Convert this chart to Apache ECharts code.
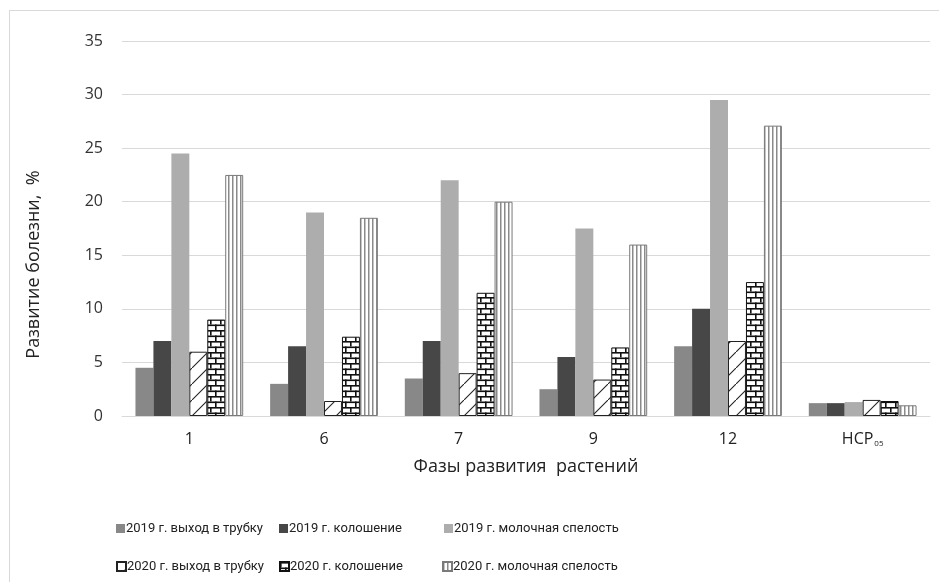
<!DOCTYPE html>
<html><head><meta charset="utf-8">
<script src="https://cdn.jsdelivr.net/npm/echarts@6/dist/echarts.min.js"></script>
<style>
html,body{margin:0;padding:0;background:#fff}
#wrap{position:relative;width:939px;height:582px;overflow:hidden}
#c{width:939px;height:582px}
#frame{position:absolute;left:9px;top:10px;width:960px;height:620px;border-left:1px solid #d9d9d9;border-top:1px solid #d9d9d9;pointer-events:none}
</style>
</head><body>
<div id="wrap"><div id="c"></div><div id="frame"></div></div>
<script>
const categories = ['1', '6', '7', '9', '12', 'НСР05'];
const s2019tube = [4.5, 3.0, 3.5, 2.5, 6.5, 1.2];
const s2019ear  = [7.0, 6.5, 7.0, 5.5, 10.0, 1.2];
const s2019milk = [24.5, 19.0, 22.0, 17.5, 29.5, 1.3];
const s2020tube = [6.0, 1.4, 4.0, 3.4, 7.0, 1.5];
const s2020ear  = [9.0, 7.4, 11.5, 6.4, 12.5, 1.4];
const s2020milk = [22.5, 18.5, 20.0, 16.0, 27.1, 1.0];
const seriesNames = [
  '2019 г. выход в трубку', '2019 г. колошение', '2019 г. молочная спелость',
  '2020 г. выход в трубку', '2020 г. колошение', '2020 г. молочная спелость'
];
const yAxisName = 'Развитие болезни,  %';
const xAxisName = 'Фазы развития  растений';

function makeCanvas(w, h, draw) {
  const c = document.createElement('canvas');
  c.width = w; c.height = h;
  const ctx = c.getContext('2d');
  ctx.fillStyle = '#fff'; ctx.fillRect(0, 0, w, h);
  draw(ctx);
  return c;
}
const hatch = makeCanvas(16, 16, ctx => {
  ctx.strokeStyle = '#222'; ctx.lineWidth = 1.1;
  ctx.beginPath();
  ctx.moveTo(-2, 18); ctx.lineTo(18, -2);
  ctx.stroke();
});
const bricks = makeCanvas(10, 11, ctx => {
  ctx.fillStyle = '#111';
  ctx.fillRect(0, 0, 10, 1.6);
  ctx.fillRect(0, 5.5, 10, 1.6);
  ctx.fillRect(0, 0, 1.6, 5.5);
  ctx.fillRect(5, 5.5, 1.6, 5.5);
});
const vlines = makeCanvas(4, 4, ctx => {
  ctx.fillStyle = '#8a8a8a';
  ctx.fillRect(0, 0, 1.5, 4);
});
const pat = img => ({ image: img, repeat: 'repeat' });

const dataSets = [s2019tube, s2019ear, s2019milk, s2020tube, s2020ear, s2020milk];
const styles = [
  { color: '#888888' },
  { color: '#474747' },
  { color: '#adadad' },
  { color: pat(hatch), borderColor: '#222', borderWidth: 1 },
  { color: pat(bricks), borderColor: '#111', borderWidth: 1 },
  { color: pat(vlines), borderColor: '#7a7a7a', borderWidth: 1 }
];

const FONT = "'Open Sans', 'Noto Sans', sans-serif";
const LFONT = "Roboto, 'Open Sans', sans-serif";
const legendPos = [
  { left: 111, top: 517 }, { left: 274, top: 517 }, { left: 439, top: 517 },
  { left: 111, top: 555 }, { left: 274, top: 555 }, { left: 437, top: 555 }
];

const chart = echarts.init(document.getElementById('c'), null, { renderer: 'canvas' });
chart.setOption({
  animation: false,
  backgroundColor: '#fff',
  grid: { left: 122, right: 9, top: 41, bottom: 166, containLabel: false },
  legend: seriesNames.map((n, i) => ({
    data: [n], left: legendPos[i].left, top: legendPos[i].top,
    icon: 'rect', itemWidth: 9, itemHeight: 9, itemGap: 0,
    textStyle: { fontFamily: LFONT, fontSize: 13, color: '#222', padding: [0, 0, 0, -4] }
  })),
  xAxis: {
    type: 'category', data: categories,
    name: xAxisName, nameLocation: 'middle', nameGap: 42,
    nameTextStyle: { fontFamily: FONT, fontSize: 18, color: '#222' },
    axisTick: { show: false },
    axisLine: { lineStyle: { color: '#d9d9d9', width: 1 } },
    axisLabel: {
      interval: 0,
      margin: 15, fontFamily: FONT, fontSize: 16, color: '#222',
      formatter: v => v === 'НСР05' ? '{a|НСР}{b|05}' : v,
      rich: {
        a: { fontFamily: FONT, fontSize: 16, color: '#222' },
        b: { fontFamily: FONT, fontSize: 8, color: '#222', padding: [9, 0, 0, 1] }
      }
    }
  },
  yAxis: {
    type: 'value', min: 0, max: 35, interval: 5,
    name: yAxisName, nameLocation: 'middle', nameGap: 79, nameRotate: 90,
    nameTextStyle: { fontFamily: FONT, fontSize: 18, color: '#222', padding: [0, 72, 0, 0] },
    axisLine: { show: false }, axisTick: { show: false },
    axisLabel: { margin: 19, fontFamily: FONT, fontSize: 16, color: '#333' },
    splitLine: { lineStyle: { color: '#d9d9d9', width: 1 } }
  },
  series: seriesNames.map((n, i) => ({
    name: n, type: 'bar', data: dataSets[i],
    barGap: '0%', barCategoryGap: '20%',
    itemStyle: styles[i]
  }))
});
</script>
</body></html>
